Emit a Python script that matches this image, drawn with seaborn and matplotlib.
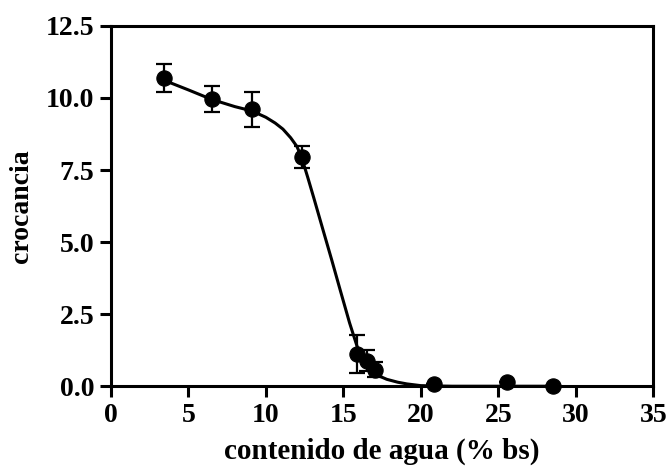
import numpy as np
import pandas as pd
import matplotlib
matplotlib.use("Agg")
import matplotlib.pyplot as plt
import seaborn as sns

# measured points (water content vs crispness) with error bars
agua = [3.4, 6.5, 9.1, 12.3, 15.85, 16.5, 17.05, 20.85, 25.55, 28.55]
crocancia = [10.70, 9.95, 9.60, 7.95, 1.12, 0.89, 0.58, 0.08, 0.14, 0.02]
error = [0.48, 0.45, 0.62, 0.37, 0.65, 0.35, 0.25, 0.0, 0.0, 0.0]

# fitted curve
curva_x = [3.4, 5.0, 6.5, 8.0, 9.1, 10.0, 10.6, 11.1, 11.6, 12.0, 12.3, 12.7, 13.1,
           13.7, 14.25, 14.8, 15.4, 15.9, 16.3, 16.7, 17.2, 17.8, 18.5, 19.1, 20.0,
           22.0, 25.0, 28.6]
curva_y = [10.62, 10.28, 9.95, 9.70, 9.55, 9.33, 9.13, 8.92, 8.62, 8.32, 7.95, 7.25, 6.52,
           5.40, 4.38, 3.33, 2.20, 1.36, 0.92, 0.58, 0.38, 0.24, 0.14, 0.08, 0.02,
           0.0, 0.0, 0.0]

x_ticks = [0, 5, 10, 15, 20, 25, 30, 35]
y_ticks = [0.0, 2.5, 5.0, 7.5, 10.0, 12.5]

sns.set_theme(style="ticks")
plt.rcParams['font.family'] = ['Liberation Serif', 'DejaVu Serif']
plt.rcParams['font.weight'] = 'bold'
plt.rcParams['text.color'] = 'black'
plt.rcParams['axes.labelcolor'] = 'black'

fig, ax = plt.subplots(figsize=(6.68, 4.71), dpi=100)
fig.subplots_adjust(left=0.166, right=0.978, top=0.945, bottom=0.180)

df_curva = pd.DataFrame({'x': curva_x, 'y': curva_y})
sns.lineplot(data=df_curva, x='x', y='y', ax=ax, color='black', linewidth=2.2,
             zorder=3, clip_on=False)

ax.errorbar(agua, crocancia, yerr=error, fmt='none', ecolor='black',
            elinewidth=1.6, capsize=6, capthick=1.6, zorder=4)

df_pts = pd.DataFrame({'agua': agua, 'crocancia': crocancia})
sns.scatterplot(data=df_pts, x='agua', y='crocancia', ax=ax, color='black',
                s=120, edgecolor='black', zorder=5, clip_on=False)

ax.set_xlim(0, 35)
ax.set_ylim(0, 12.5)
ax.set_xticks(x_ticks)
ax.set_xticklabels([str(t) for t in x_ticks])
ax.set_yticks(y_ticks)
ax.set_yticklabels([f"{t:.1f}" for t in y_ticks])

for s in ax.spines.values():
    s.set_visible(True)
    s.set_linewidth(2.2)
    s.set_color('black')

ax.tick_params(axis='both', direction='out', length=8, width=2.2, colors='black',
               labelsize=20, labelcolor='black', pad=4)
ax.tick_params(top=False, right=False)
for lab in ax.get_xticklabels() + ax.get_yticklabels():
    lab.set_fontweight('bold')

ax.set_xlabel('contenido de agua (% bs)', fontsize=21, fontweight='bold',
              color='black', labelpad=7)
ax.set_ylabel('crocancia', fontsize=20, fontweight='bold', color='black', labelpad=8)

fig.savefig('out.png', dpi=100)
